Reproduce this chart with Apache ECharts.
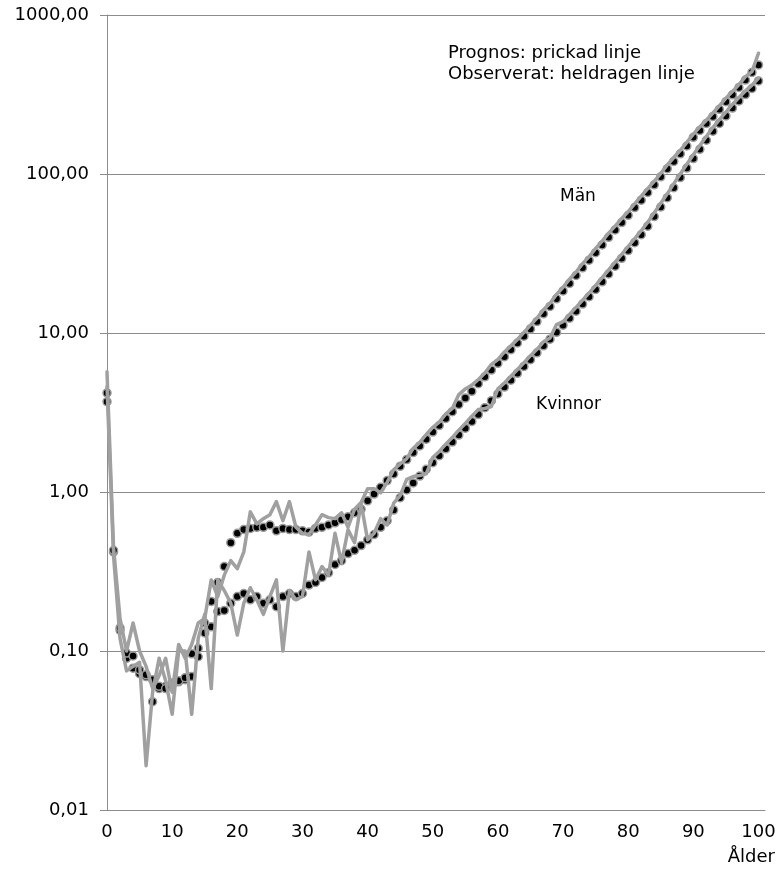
<!DOCTYPE html>
<html><head><meta charset="utf-8">
<script src="https://cdn.jsdelivr.net/npm/echarts@6/dist/echarts.min.js"></script>
<style>html,body{margin:0;padding:0;background:#fff}#c{width:780px;height:875px}</style>
</head><body><div id="c"></div>
<script>
// Ålder (age) categories
const ages = [0,1,2,3,4,5,6,7,8,9,10,11,12,13,14,15,16,17,18,19,20,21,22,23,24,25,26,27,28,29,30,31,32,33,34,35,36,37,38,39,40,41,42,43,44,45,46,47,48,49,50,51,52,53,54,55,56,57,58,59,60,61,62,63,64,65,66,67,68,69,70,71,72,73,74,75,76,77,78,79,80,81,82,83,84,85,86,87,88,89,90,91,92,93,94,95,96,97,98,99,100];

// Män – prognos (prickad linje)
const menPrognos = [4.2,0.43,0.14,0.097,0.093,0.076,0.071,0.066,0.06,0.058,0.062,0.065,0.068,0.096,0.104,0.15,0.205,0.27,0.34,0.48,0.55,0.58,0.59,0.6,0.6,0.62,0.57,0.59,0.58,0.58,0.57,0.56,0.59,0.6,0.62,0.64,0.67,0.7,0.74,0.78,0.88,0.97,1.07,1.18,1.3,1.45,1.6,1.77,1.95,2.15,2.38,2.62,2.9,3.2,3.55,3.9,4.3,4.8,5.3,5.85,6.45,7.1,7.85,8.65,9.55,10.6,11.8,13.2,14.7,16.4,18.4,20.5,23,25.7,28.7,32,35.8,40,44.5,49.5,55,61.5,68.5,76.5,85.5,96,108,120,134,150,170,188,208,230,255,285,315,350,390,435,485];

// Kvinnor – prognos (prickad linje)
const womenPrognos = [3.7,0.42,0.135,0.09,0.078,0.072,0.069,0.048,0.058,0.06,0.063,0.064,0.066,0.069,0.092,0.13,0.142,0.177,0.18,0.2,0.22,0.23,0.21,0.22,0.2,0.21,0.19,0.22,0.23,0.22,0.23,0.26,0.27,0.29,0.31,0.35,0.37,0.41,0.43,0.46,0.5,0.54,0.6,0.66,0.77,0.92,1.03,1.14,1.26,1.39,1.53,1.69,1.87,2.06,2.28,2.52,2.78,3.07,3.39,3.75,4.14,4.57,5.05,5.58,6.16,6.8,7.5,8.3,9.15,10.1,11.2,12.4,13.7,15.2,16.9,18.8,21,23.5,26.3,29.5,33,37,41.5,47,54,62,71,82,95,109,125,143,163,186,208,232,260,288,316,345,385];

// Män – observerat (heldragen linje)
const menObserved = [5.7,0.45,0.16,0.1,0.15,0.1,0.08,0.058,0.07,0.09,0.055,0.11,0.09,0.11,0.15,0.16,0.28,0.22,0.3,0.37,0.33,0.42,0.75,0.63,0.68,0.72,0.87,0.66,0.87,0.6,0.55,0.54,0.62,0.72,0.69,0.68,0.74,0.6,0.78,0.86,1.05,1.05,0.99,1.15,1.38,1.5,1.62,1.88,2.05,2.3,2.55,2.75,3.1,3.35,4.1,4.45,4.7,5.1,5.6,6.35,6.8,7.6,8.3,9.1,10.1,11.2,12.4,14.0,15.4,17.5,19.4,21.8,24.2,27.3,30.2,34,37.8,42.5,47,52.5,58,65,72.5,81,90,101,114,127,141,158,178,198,218,242,268,300,330,365,410,440,575];

// Kvinnor – observerat (heldragen linje)
const womenObserved = [4.6,0.4,0.12,0.075,0.08,0.085,0.019,0.055,0.09,0.065,0.04,0.1,0.1,0.04,0.12,0.17,0.058,0.28,0.24,0.2,0.126,0.2,0.25,0.21,0.17,0.22,0.28,0.1,0.24,0.21,0.22,0.42,0.28,0.34,0.3,0.55,0.36,0.58,0.48,0.85,0.5,0.55,0.68,0.62,0.85,0.95,1.2,1.25,1.27,1.3,1.65,1.8,2.0,2.2,2.45,2.7,3.0,3.3,3.35,3.45,4.45,4.85,5.35,5.9,6.5,7.2,7.9,8.8,9.3,11.3,11.8,13.1,14.5,16.1,17.9,19.9,22.3,24.9,27.9,31.2,35,39.2,44,49.8,57,65.5,75,87,100,115,132,151,172,196,220,245,274,303,333,362,400];

// y tick labels (log axis)
const yTicks = ['0,01','0,10','1,00','10,00','100,00','1000,00'];

const FONT = 'DejaVu Sans';
const GRAY = '#8c8c8c';
const LINE = '#a0a0a0';

function pairs(vals){ return ages.map((a,i)=>[a, vals[i]]); }

const chart = echarts.init(document.getElementById('c'), null, {renderer:'canvas'});
const dotSeries = (name, vals) => ({
  name, type:'line', data: pairs(vals), z: 2,
  symbol:'circle', symbolSize: 8, showSymbol: true,
  lineStyle:{width:0, opacity:0},
  itemStyle:{color:'#000', borderColor:'#9a9a9a', borderWidth:1.5},
  emphasis:{disabled:true}, animation:false
});
const lineSeries = (name, vals) => ({
  name, type:'line', data: pairs(vals), z: 3,
  symbol:'none', showSymbol:false,
  lineStyle:{width:3.5, color:LINE, join:'round', cap:'round'},
  itemStyle:{color:LINE},
  emphasis:{disabled:true}, animation:false
});

chart.setOption({
  animation:false,
  backgroundColor:'#fff',
  grid:{left:107, top:15, right:15, bottom:65, containLabel:false},
  xAxis:{
    type:'value', min:0, max:101, interval:10,
    axisLine:{show:true, onZero:false, lineStyle:{color:GRAY, width:1}},
    axisTick:{show:false},
    splitLine:{show:false},
    axisLabel:{margin:13, color:'#000', fontFamily:FONT, fontSize:18,
      formatter: v => (v % 10 === 0 ? String(v) : '')}
  },
  yAxis:{
    type:'log', logBase:10, min:0.01, max:1000,
    axisLine:{show:true, lineStyle:{color:GRAY, width:1}},
    axisTick:{show:true, inside:false, length:7, lineStyle:{color:GRAY}},
    splitLine:{show:true, lineStyle:{color:GRAY, width:1}},
    minorTick:{show:false}, minorSplitLine:{show:false},
    axisLabel:{margin:18, color:'#000', fontFamily:FONT, fontSize:18,
      formatter: v => {
        const idx = Math.round(Math.log10(v)) + 2;
        return yTicks[idx] !== undefined ? yTicks[idx] : '';
      }}
  },
  series:[
    dotSeries('Kvinnor prognos', womenPrognos),
    dotSeries('Män prognos', menPrognos),
    lineSeries('Kvinnor observerat', womenObserved),
    lineSeries('Män observerat', menObserved)
  ],
  graphic:[
    {type:'text', left:448, top:44, style:{text:'Prognos: prickad linje', font:'18px "DejaVu Sans"', fill:'#000'}},
    {type:'text', left:448, top:65, style:{text:'Observerat: heldragen linje', font:'18px "DejaVu Sans"', fill:'#000'}},
    {type:'text', left:560, top:188, style:{text:'Män', font:'17px "DejaVu Sans"', fill:'#000'}},
    {type:'text', left:536, top:396, style:{text:'Kvinnor', font:'17px "DejaVu Sans"', fill:'#000'}},
    {type:'text', right:5, top:848, style:{text:'Ålder', font:'18px "DejaVu Sans"', fill:'#000'}}
  ]
});
</script>
</body></html>
